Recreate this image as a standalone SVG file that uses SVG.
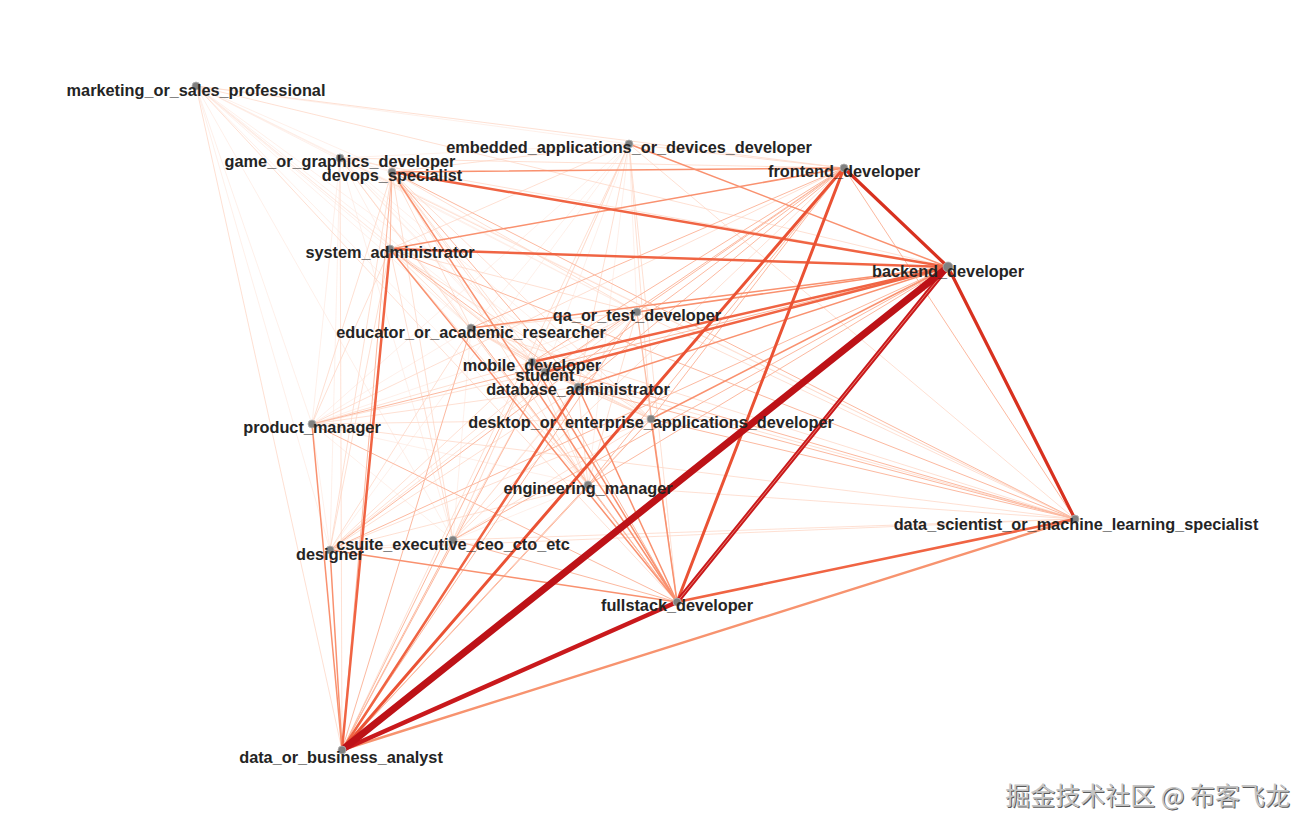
<svg xmlns="http://www.w3.org/2000/svg" width="1314" height="832" viewBox="0 0 1314 832">
<style>
.e line{stroke-linecap:round;fill:none}
.w0{stroke:#fee6dc;stroke-width:0.6}
.w1{stroke:#fdd5c4;stroke-width:0.75}
.w2{stroke:#fcb9a0;stroke-width:1.0}
.w3{stroke:#f9916f;stroke-width:1.5}
.w4b{stroke:#f7936f;stroke-width:2.4}
.w4{stroke:#f06443;stroke-width:2.5}
.w5a{stroke:#ea5234;stroke-width:3}
.w5{stroke:#d8311f;stroke-width:3.2}
.w6{stroke:#c9191c;stroke-width:4.4}
.w7{stroke:#bd1217;stroke-width:7}
.hl{stroke:#f6a58c;stroke-width:0.7}
.n circle{fill:#808080;stroke:#b5b5b5;stroke-width:0.8}
.n text{font-family:"Liberation Sans",Arial,Helvetica,sans-serif;font-weight:bold;font-size:16.3px;fill:#242424;text-anchor:middle}
.wm{font-family:"Noto Sans CJK SC","Liberation Sans",sans-serif;font-size:25px;text-anchor:end}
</style>
<rect width="1314" height="832" fill="#ffffff"/>
<g id="edges" class="e">
<!-- w0 -->
<line class="w0" x1="196" y1="86" x2="340" y2="158"/>
<line class="w0" x1="196" y1="86" x2="392" y2="172"/>
<line class="w0" x1="196" y1="86" x2="629" y2="144"/>
<line class="w0" x1="196" y1="86" x2="390" y2="249"/>
<line class="w0" x1="196" y1="86" x2="637" y2="312"/>
<line class="w0" x1="196" y1="86" x2="471" y2="328"/>
<line class="w0" x1="196" y1="86" x2="532" y2="362"/>
<line class="w0" x1="196" y1="86" x2="545" y2="372"/>
<line class="w0" x1="196" y1="86" x2="578" y2="387"/>
<line class="w0" x1="196" y1="86" x2="312" y2="424"/>
<line class="w0" x1="196" y1="86" x2="651" y2="419"/>
<line class="w0" x1="196" y1="86" x2="588" y2="485"/>
<line class="w0" x1="196" y1="86" x2="1075" y2="519"/>
<line class="w0" x1="196" y1="86" x2="453" y2="540"/>
<line class="w0" x1="196" y1="86" x2="330" y2="550"/>
<line class="w0" x1="340" y1="158" x2="392" y2="172"/>
<line class="w0" x1="340" y1="158" x2="629" y2="144"/>
<line class="w0" x1="340" y1="158" x2="390" y2="249"/>
<line class="w0" x1="340" y1="158" x2="637" y2="312"/>
<line class="w0" x1="340" y1="158" x2="471" y2="328"/>
<line class="w0" x1="340" y1="158" x2="532" y2="362"/>
<line class="w0" x1="340" y1="158" x2="545" y2="372"/>
<line class="w0" x1="340" y1="158" x2="578" y2="387"/>
<line class="w0" x1="340" y1="158" x2="312" y2="424"/>
<line class="w0" x1="340" y1="158" x2="651" y2="419"/>
<line class="w0" x1="340" y1="158" x2="588" y2="485"/>
<line class="w0" x1="340" y1="158" x2="453" y2="540"/>
<line class="w0" x1="340" y1="158" x2="330" y2="550"/>
<line class="w0" x1="629" y1="144" x2="637" y2="312"/>
<line class="w0" x1="629" y1="144" x2="471" y2="328"/>
<line class="w0" x1="629" y1="144" x2="545" y2="372"/>
<line class="w0" x1="629" y1="144" x2="312" y2="424"/>
<line class="w0" x1="629" y1="144" x2="588" y2="485"/>
<line class="w0" x1="629" y1="144" x2="453" y2="540"/>
<line class="w0" x1="629" y1="144" x2="330" y2="550"/>
<line class="w0" x1="637" y1="312" x2="312" y2="424"/>
<line class="w0" x1="637" y1="312" x2="453" y2="540"/>
<line class="w0" x1="471" y1="328" x2="312" y2="424"/>
<line class="w0" x1="471" y1="328" x2="453" y2="540"/>
<line class="w0" x1="312" y1="424" x2="588" y2="485"/>
<line class="w0" x1="312" y1="424" x2="453" y2="540"/>
<line class="w0" x1="312" y1="424" x2="330" y2="550"/>
<line class="w0" x1="588" y1="485" x2="453" y2="540"/>
<line class="w0" x1="453" y1="540" x2="330" y2="550"/>
<!-- w1 -->
<line class="w1" x1="196" y1="86" x2="844" y2="168"/>
<line class="w1" x1="196" y1="86" x2="948" y2="267"/>
<line class="w1" x1="196" y1="86" x2="677" y2="602"/>
<line class="w1" x1="196" y1="86" x2="342" y2="750"/>
<line class="w1" x1="340" y1="158" x2="844" y2="168"/>
<line class="w1" x1="340" y1="158" x2="948" y2="267"/>
<line class="w1" x1="340" y1="158" x2="1075" y2="519"/>
<line class="w1" x1="340" y1="158" x2="677" y2="602"/>
<line class="w1" x1="340" y1="158" x2="342" y2="750"/>
<line class="w1" x1="392" y1="172" x2="629" y2="144"/>
<line class="w1" x1="392" y1="172" x2="637" y2="312"/>
<line class="w1" x1="392" y1="172" x2="471" y2="328"/>
<line class="w1" x1="392" y1="172" x2="532" y2="362"/>
<line class="w1" x1="392" y1="172" x2="545" y2="372"/>
<line class="w1" x1="392" y1="172" x2="312" y2="424"/>
<line class="w1" x1="392" y1="172" x2="651" y2="419"/>
<line class="w1" x1="392" y1="172" x2="588" y2="485"/>
<line class="w1" x1="392" y1="172" x2="453" y2="540"/>
<line class="w1" x1="392" y1="172" x2="330" y2="550"/>
<line class="w1" x1="629" y1="144" x2="844" y2="168"/>
<line class="w1" x1="629" y1="144" x2="390" y2="249"/>
<line class="w1" x1="629" y1="144" x2="532" y2="362"/>
<line class="w1" x1="629" y1="144" x2="578" y2="387"/>
<line class="w1" x1="629" y1="144" x2="651" y2="419"/>
<line class="w1" x1="629" y1="144" x2="1075" y2="519"/>
<line class="w1" x1="629" y1="144" x2="677" y2="602"/>
<line class="w1" x1="629" y1="144" x2="342" y2="750"/>
<line class="w1" x1="844" y1="168" x2="312" y2="424"/>
<line class="w1" x1="844" y1="168" x2="453" y2="540"/>
<line class="w1" x1="390" y1="249" x2="637" y2="312"/>
<line class="w1" x1="390" y1="249" x2="471" y2="328"/>
<line class="w1" x1="390" y1="249" x2="532" y2="362"/>
<line class="w1" x1="390" y1="249" x2="545" y2="372"/>
<line class="w1" x1="390" y1="249" x2="312" y2="424"/>
<line class="w1" x1="390" y1="249" x2="651" y2="419"/>
<line class="w1" x1="390" y1="249" x2="588" y2="485"/>
<line class="w1" x1="390" y1="249" x2="453" y2="540"/>
<line class="w1" x1="390" y1="249" x2="330" y2="550"/>
<line class="w1" x1="637" y1="312" x2="471" y2="328"/>
<line class="w1" x1="637" y1="312" x2="532" y2="362"/>
<line class="w1" x1="637" y1="312" x2="545" y2="372"/>
<line class="w1" x1="637" y1="312" x2="578" y2="387"/>
<line class="w1" x1="637" y1="312" x2="651" y2="419"/>
<line class="w1" x1="637" y1="312" x2="588" y2="485"/>
<line class="w1" x1="637" y1="312" x2="1075" y2="519"/>
<line class="w1" x1="637" y1="312" x2="330" y2="550"/>
<line class="w1" x1="471" y1="328" x2="532" y2="362"/>
<line class="w1" x1="471" y1="328" x2="545" y2="372"/>
<line class="w1" x1="471" y1="328" x2="578" y2="387"/>
<line class="w1" x1="471" y1="328" x2="651" y2="419"/>
<line class="w1" x1="471" y1="328" x2="588" y2="485"/>
<line class="w1" x1="471" y1="328" x2="1075" y2="519"/>
<line class="w1" x1="471" y1="328" x2="330" y2="550"/>
<line class="w1" x1="532" y1="362" x2="545" y2="372"/>
<line class="w1" x1="532" y1="362" x2="578" y2="387"/>
<line class="w1" x1="532" y1="362" x2="312" y2="424"/>
<line class="w1" x1="532" y1="362" x2="651" y2="419"/>
<line class="w1" x1="532" y1="362" x2="588" y2="485"/>
<line class="w1" x1="532" y1="362" x2="453" y2="540"/>
<line class="w1" x1="532" y1="362" x2="330" y2="550"/>
<line class="w1" x1="545" y1="372" x2="578" y2="387"/>
<line class="w1" x1="545" y1="372" x2="312" y2="424"/>
<line class="w1" x1="545" y1="372" x2="651" y2="419"/>
<line class="w1" x1="545" y1="372" x2="588" y2="485"/>
<line class="w1" x1="545" y1="372" x2="1075" y2="519"/>
<line class="w1" x1="545" y1="372" x2="453" y2="540"/>
<line class="w1" x1="545" y1="372" x2="330" y2="550"/>
<line class="w1" x1="578" y1="387" x2="312" y2="424"/>
<line class="w1" x1="578" y1="387" x2="651" y2="419"/>
<line class="w1" x1="578" y1="387" x2="588" y2="485"/>
<line class="w1" x1="578" y1="387" x2="453" y2="540"/>
<line class="w1" x1="578" y1="387" x2="330" y2="550"/>
<line class="w1" x1="312" y1="424" x2="651" y2="419"/>
<line class="w1" x1="312" y1="424" x2="1075" y2="519"/>
<line class="w1" x1="651" y1="419" x2="588" y2="485"/>
<line class="w1" x1="651" y1="419" x2="453" y2="540"/>
<line class="w1" x1="651" y1="419" x2="330" y2="550"/>
<line class="w1" x1="588" y1="485" x2="1075" y2="519"/>
<line class="w1" x1="588" y1="485" x2="330" y2="550"/>
<line class="w1" x1="1075" y1="519" x2="453" y2="540"/>
<line class="w1" x1="1075" y1="519" x2="330" y2="550"/>
<!-- w2 -->
<line class="w2" x1="392" y1="172" x2="390" y2="249"/>
<line class="w2" x1="392" y1="172" x2="578" y2="387"/>
<line class="w2" x1="392" y1="172" x2="1075" y2="519"/>
<line class="w2" x1="392" y1="172" x2="342" y2="750"/>
<line class="w2" x1="844" y1="168" x2="637" y2="312"/>
<line class="w2" x1="844" y1="168" x2="471" y2="328"/>
<line class="w2" x1="844" y1="168" x2="532" y2="362"/>
<line class="w2" x1="844" y1="168" x2="545" y2="372"/>
<line class="w2" x1="844" y1="168" x2="578" y2="387"/>
<line class="w2" x1="844" y1="168" x2="651" y2="419"/>
<line class="w2" x1="844" y1="168" x2="588" y2="485"/>
<line class="w2" x1="844" y1="168" x2="1075" y2="519"/>
<line class="w2" x1="844" y1="168" x2="330" y2="550"/>
<line class="w2" x1="948" y1="267" x2="312" y2="424"/>
<line class="w2" x1="948" y1="267" x2="588" y2="485"/>
<line class="w2" x1="948" y1="267" x2="453" y2="540"/>
<line class="w2" x1="948" y1="267" x2="330" y2="550"/>
<line class="w2" x1="390" y1="249" x2="578" y2="387"/>
<line class="w2" x1="390" y1="249" x2="1075" y2="519"/>
<line class="w2" x1="637" y1="312" x2="677" y2="602"/>
<line class="w2" x1="637" y1="312" x2="342" y2="750"/>
<line class="w2" x1="471" y1="328" x2="677" y2="602"/>
<line class="w2" x1="471" y1="328" x2="342" y2="750"/>
<line class="w2" x1="532" y1="362" x2="1075" y2="519"/>
<line class="w2" x1="532" y1="362" x2="342" y2="750"/>
<line class="w2" x1="545" y1="372" x2="677" y2="602"/>
<line class="w2" x1="545" y1="372" x2="342" y2="750"/>
<line class="w2" x1="578" y1="387" x2="1075" y2="519"/>
<line class="w2" x1="312" y1="424" x2="677" y2="602"/>
<line class="w2" x1="651" y1="419" x2="1075" y2="519"/>
<line class="w2" x1="651" y1="419" x2="342" y2="750"/>
<line class="w2" x1="588" y1="485" x2="677" y2="602"/>
<line class="w2" x1="588" y1="485" x2="342" y2="750"/>
<line class="w2" x1="453" y1="540" x2="677" y2="602"/>
<line class="w2" x1="453" y1="540" x2="342" y2="750"/>
<!-- w3 -->
<line class="w3" x1="392" y1="172" x2="844" y2="168"/>
<line class="w3" x1="392" y1="172" x2="677" y2="602"/>
<line class="w3" x1="629" y1="144" x2="948" y2="267"/>
<line class="w3" x1="844" y1="168" x2="390" y2="249"/>
<line class="w3" x1="948" y1="267" x2="637" y2="312"/>
<line class="w3" x1="948" y1="267" x2="471" y2="328"/>
<line class="w3" x1="948" y1="267" x2="578" y2="387"/>
<line class="w3" x1="948" y1="267" x2="651" y2="419"/>
<line class="w3" x1="390" y1="249" x2="677" y2="602"/>
<line class="w3" x1="532" y1="362" x2="677" y2="602"/>
<line class="w3" x1="578" y1="387" x2="677" y2="602"/>
<line class="w3" x1="312" y1="424" x2="342" y2="750"/>
<line class="w3" x1="651" y1="419" x2="677" y2="602"/>
<line class="w3" x1="330" y1="550" x2="677" y2="602"/>
<line class="w3" x1="330" y1="550" x2="342" y2="750"/>
<!-- w4 -->
<line class="w4b" x1="1075" y1="519" x2="342" y2="750"/>
<line class="w4" x1="342" y1="750" x2="578" y2="387"/>
<line class="w4" x1="1075" y1="519" x2="677" y2="602"/>
<line class="w4" x1="948" y1="267" x2="392" y2="172"/>
<line class="w4" x1="948" y1="267" x2="390" y2="249"/>
<line class="w4" x1="390" y1="249" x2="342" y2="750"/>
<line class="w4" x1="948" y1="267" x2="545" y2="372"/>
<line class="w4" x1="948" y1="267" x2="532" y2="362"/>
<!-- w5 -->
<line class="w5a" x1="844" y1="168" x2="677" y2="602"/>
<line class="w5a" x1="844" y1="168" x2="342" y2="750"/>
<line class="w5" x1="844" y1="168" x2="948" y2="267"/>
<line class="w5" x1="948" y1="267" x2="1075" y2="519"/>
<!-- w6 / w7 -->
<line class="w6" x1="677" y1="602" x2="948" y2="267"/>
<line class="hl" x1="677" y1="602" x2="948" y2="267"/>
<line class="w6" x1="342" y1="750" x2="677" y2="602"/>
<line class="w7" x1="342" y1="750" x2="948" y2="267"/>
</g>
<g id="node-marketing" class="n"><circle cx="196" cy="86" r="4"/><text x="196" y="96">marketing_or_sales_professional</text></g>
<g id="node-game" class="n"><circle cx="340" cy="158" r="4"/><text x="340" y="167">game_or_graphics_developer</text></g>
<g id="node-devops" class="n"><circle cx="392" cy="172" r="4"/><text x="392" y="181">devops_specialist</text></g>
<g id="node-embedded" class="n"><circle cx="629" cy="144" r="4"/><text x="629" y="153">embedded_applications_or_devices_developer</text></g>
<g id="node-frontend" class="n"><circle cx="844" cy="168" r="4"/><text x="844" y="176.5">frontend_developer</text></g>
<g id="node-backend" class="n"><circle cx="948" cy="267" r="5"/><text x="948" y="277">backend_developer</text></g>
<g id="node-sysadmin" class="n"><circle cx="390" cy="249" r="4"/><text x="390" y="257.5">system_administrator</text></g>
<g id="node-qa" class="n"><circle cx="637" cy="312" r="4"/><text x="637" y="320.5">qa_or_test_developer</text></g>
<g id="node-educator" class="n"><circle cx="471" cy="328" r="4"/><text x="471" y="337.5">educator_or_academic_researcher</text></g>
<g id="node-mobile" class="n"><circle cx="532" cy="362" r="4"/><text x="532" y="371">mobile_developer</text></g>
<g id="node-student" class="n"><circle cx="545" cy="372" r="4"/><text x="545" y="381">student</text></g>
<g id="node-dba" class="n"><circle cx="578" cy="387" r="4"/><text x="578" y="395">database_administrator</text></g>
<g id="node-pm" class="n"><circle cx="312" cy="424" r="4"/><text x="312" y="433">product_manager</text></g>
<g id="node-desktop" class="n"><circle cx="651" cy="419" r="4"/><text x="651" y="427.5">desktop_or_enterprise_applications_developer</text></g>
<g id="node-em" class="n"><circle cx="588" cy="485" r="4"/><text x="588" y="493.5">engineering_manager</text></g>
<g id="node-ds" class="n"><circle cx="1075" cy="519" r="4"/><text x="1076" y="529.5">data_scientist_or_machine_learning_specialist</text></g>
<g id="node-csuite" class="n"><circle cx="453" cy="540" r="4"/><text x="453" y="549.5">csuite_executive_ceo_cto_etc</text></g>
<g id="node-designer" class="n"><circle cx="330" cy="550" r="4"/><text x="330" y="559.5">designer</text></g>
<g id="node-fullstack" class="n"><circle cx="677" cy="602" r="4"/><text x="677" y="611">fullstack_developer</text></g>
<g id="node-analyst" class="n"><circle cx="342" cy="750" r="4"/><text x="341" y="763">data_or_business_analyst</text></g>
<g id="watermark">
<text class="wm" x="1291" y="806" fill="#5a5a5a">掘金技术社区 @ 布客飞龙</text>
<text class="wm" x="1290" y="805" fill="#c4c4c4">掘金技术社区 @ 布客飞龙</text>
</g>
</svg>
